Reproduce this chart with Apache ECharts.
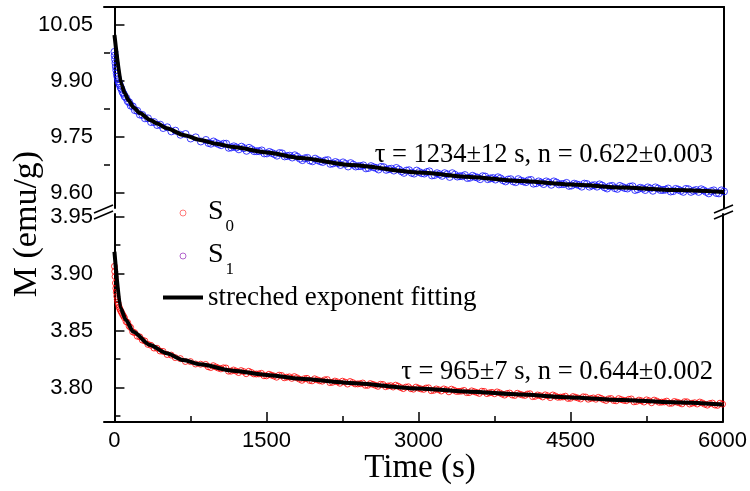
<!DOCTYPE html>
<html>
<head>
<meta charset="utf-8">
<script src="https://cdn.jsdelivr.net/npm/echarts@6/dist/echarts.min.js"></script>
<style>html,body{margin:0;padding:0;background:#fff;}#chart{width:750px;height:491px;}</style>
</head>
<body>
<div id="chart"></div>
<script>
// ---- data ----
const dataTime = [0,3,6,10,14,18,23,28,34,40,47,54,62,70,80,90,100,115,130,145,160,180,200,225,250,275,300,330,360,390,420,450,480,520,560,600,650,700,750,800,850,
900,950,1000,1050,1100,1150,1200,1250,1300,1350,1400,1450,1500,1550,1600,1650,1700,1750,1800,1850,1900,1950,2000,2050,2100,2150,2200,2250,2300,2350,2400,2450,2500,2550,2600,2650,2700,2750,2800,2850,2900,2950,3000,3050,3100,3150,3200,3250,3300,3350,3400,3450,3500,3550,3600,3650,3700,3750,3800,3850,3900,3950,4000,4050,4100,4150,4200,4250,4300,4350,4400,4450,4500,4550,4600,4650,4700,4750,4800,4850,4900,4950,5000,5050,5100,5150,5200,5250,5300,5350,5400,5450,5500,5550,5600,5650,5700,5750,5800,5850,5900,5950,6000];

const s1Values = [9.978,9.968,9.958,9.948,9.938,9.929,9.920,9.912,9.905,9.899,9.893,9.889,9.882,9.878,9.870,9.866,9.859,9.855,9.846,9.843,9.834,9.832,9.822,9.820,9.810,9.809,9.800,9.800,9.790,9.790,9.782,9.783,9.774,9.776,9.765,9.767,9.756,9.758,9.746,9.749,9.738,
9.742,9.732,9.734,9.728,9.732,9.722,9.722,9.724,9.713,9.717,
9.712,9.714,9.706,9.707,9.700,9.706,9.699,9.695,9.697,9.688,
9.694,9.685,9.688,9.683,9.688,9.679,9.680,9.682,9.671,9.676,
9.672,9.674,9.667,9.669,9.663,9.669,9.664,9.660,9.663,9.654,
9.661,9.652,9.656,9.652,9.658,9.648,9.650,9.653,9.643,9.649,
9.645,9.648,9.641,9.643,9.637,9.644,9.639,9.636,9.639,9.631,
9.637,9.629,9.633,9.629,9.635,9.626,9.628,9.631,9.622,9.628,
9.624,9.627,9.620,9.623,9.617,9.624,9.620,9.617,9.620,9.612,
9.619,9.611,9.616,9.612,9.618,9.610,9.612,9.615,9.606,9.612,
9.608,9.612,9.605,9.609,9.603,9.610,9.606,9.603,9.607,9.599,
9.607,9.599,9.604];

const s0Values = [3.9065,3.9020,3.8975,3.8918,3.8872,3.8838,3.8802,3.8772,3.8748,3.8728,3.8707,3.8690,3.8674,3.8660,3.8643,3.8628,3.8612,3.8580,3.8572,3.8540,3.8528,3.8490,3.8482,3.8452,3.8446,3.8418,3.8410,3.8380,3.8372,3.8348,3.8346,3.8322,3.8318,3.8291,3.8286,3.8264,3.8255,3.8230,3.8229,3.8208,3.8206,
3.8204,3.8177,3.8182,3.8165,3.8173,3.8145,3.8146,3.8150,3.8123,3.8134,
3.8120,3.8126,3.8104,3.8110,3.8092,3.8107,3.8092,3.8082,3.8087,3.8065,
3.8082,3.8060,3.8069,3.8057,3.8071,3.8047,3.8051,3.8057,3.8032,3.8045,
3.8033,3.8041,3.8021,3.8029,3.8012,3.8028,3.8015,3.8006,3.8013,3.7992,
3.8008,3.7987,3.7996,3.7985,3.7999,3.7977,3.7982,3.7989,3.7964,3.7978,
3.7968,3.7976,3.7957,3.7965,3.7950,3.7967,3.7955,3.7947,3.7955,3.7935,
3.7953,3.7932,3.7943,3.7932,3.7947,3.7924,3.7930,3.7937,3.7913,3.7927,
3.7917,3.7925,3.7907,3.7916,3.7901,3.7918,3.7906,3.7899,3.7907,3.7888,
3.7905,3.7885,3.7896,3.7886,3.7901,3.7879,3.7885,3.7893,3.7868,3.7883,
3.7873,3.7882,3.7864,3.7873,3.7858,3.7876,3.7864,3.7857,3.7866,3.7847,
3.7865,3.7845,3.7856];

// second, interleaved set of readings (the scatter band is dense)
const dataTime2 = [925,975,1025,1075,1125,1175,1225,1275,1325,1375,1425,1475,1525,1575,1625,1675,1725,1775,1825,1875,1925,1975,2025,2075,2125,2175,2225,2275,2325,2375,2425,2475,2525,2575,2625,2675,2725,2775,2825,2875,2925,2975,3025,3075,3125,3175,3225,3275,3325,3375,3425,3475,3525,3575,3625,3675,3725,3775,3825,3875,3925,3975,4025,4075,4125,4175,4225,4275,4325,4375,4425,4475,4525,4575,4625,4675,4725,4775,4825,4875,4925,4975,5025,5075,5125,5175,5225,5275,5325,5375,5425,5475,5525,5575,5625,5675,5725,5775,5825,5875,5925,5975];

const s1Values2 = [9.734,9.738,9.731,9.732,9.721,9.725,9.717,9.720,9.721,9.712,
9.712,9.706,9.710,9.704,9.707,9.698,9.700,9.701,9.692,9.693,
9.687,9.692,9.685,9.687,9.678,9.683,9.675,9.678,9.680,9.671,
9.672,9.666,9.672,9.667,9.670,9.662,9.665,9.667,9.658,9.660,
9.654,9.660,9.653,9.656,9.647,9.653,9.646,9.650,9.653,9.644,
9.645,9.640,9.646,9.641,9.645,9.637,9.640,9.642,9.634,9.636,
9.631,9.637,9.631,9.634,9.625,9.631,9.624,9.628,9.631,9.623,
9.624,9.619,9.625,9.621,9.625,9.617,9.621,9.623,9.615,9.618,
9.613,9.619,9.613,9.617,9.608,9.614,9.608,9.612,9.615,9.608,
9.609,9.604,9.611,9.606,9.611,9.603,9.608,9.610,9.603,9.605,
9.600,9.607];

const s0Values2 = [3.8184,3.8193,3.8172,3.8174,3.8145,3.8155,3.8133,3.8141,3.8144,3.8121,
3.8121,3.8105,3.8118,3.8102,3.8110,3.8087,3.8095,3.8097,3.8075,3.8079,
3.8064,3.8078,3.8061,3.8069,3.8045,3.8058,3.8039,3.8049,3.8054,3.8033,
3.8035,3.8021,3.8036,3.8021,3.8030,3.8009,3.8018,3.8022,3.8001,3.8005,
3.7991,3.8005,3.7989,3.7997,3.7974,3.7989,3.7971,3.7981,3.7987,3.7967,
3.7970,3.7957,3.7972,3.7958,3.7969,3.7948,3.7959,3.7963,3.7944,3.7949,
3.7936,3.7951,3.7936,3.7944,3.7922,3.7936,3.7919,3.7929,3.7936,3.7916,
3.7919,3.7906,3.7922,3.7909,3.7920,3.7899,3.7910,3.7915,3.7896,3.7902,
3.7888,3.7904,3.7889,3.7898,3.7876,3.7891,3.7874,3.7885,3.7891,3.7872,
3.7875,3.7863,3.7879,3.7866,3.7877,3.7857,3.7868,3.7874,3.7855,3.7861,
3.7848,3.7864];

const fitTopTime  = [0, 71, 100, 140, 185, 250, 350, 420, 515, 679, 843, 1000, 1172, 1501, 1829, 2323, 3000, 3500, 4000, 4500, 5000, 5500, 6000];
const fitTopValue = [10.023, 9.889, 9.868, 9.848, 9.830, 9.814, 9.7955, 9.786, 9.7733, 9.7554, 9.742, 9.732, 9.7232, 9.7085, 9.6937, 9.675, 9.6549, 9.643, 9.6322, 9.6228, 9.6147, 9.608, 9.6027];

const fitBotTime  = [0, 61, 113, 185, 350, 515, 679, 843, 1172, 1501, 1829, 2323, 3000, 3500, 4000, 4500, 5000, 5500, 6000];
const fitBotValue = [3.9193, 3.8697, 3.8594, 3.8491, 3.8375, 3.8302, 3.8243, 3.8206, 3.8149, 3.8112, 3.8079, 3.8042, 3.7993, 3.7965, 3.7940, 3.7915, 3.7893, 3.7872, 3.7853];

const xMajorTicks = [0, 1500, 3000, 4500, 6000];
const xMinorTicks = [750, 2250, 3750, 5250];
const yTopMajor = [9.60, 9.75, 9.90, 10.05];
const yTopMinor = [9.675, 9.825, 9.975];
const yBotMajor = [3.80, 3.85, 3.90, 3.95];
const yBotMinor = [3.775, 3.825, 3.875, 3.925];

const seriesNames = ['S0', 'S1', 'streched exponent fitting'];
const annotTop = 'τ = 1234±12 s, n = 0.622±0.003';
const annotBot = 'τ = 965±7 s, n = 0.644±0.002';
const xTitle = 'Time (s)';
const yTitle = 'M (emu/g)';

// ---- build ----
const zip = (a, b) => a.map((v, i) => [v, b[i]]);
const SERIF = '"Liberation Serif","Times New Roman",serif';
const SANS = '"Liberation Sans",Arial,sans-serif';

const X_MIN = -103, X_MAX = 6000;
const TOP_MIN = 9.5598, TOP_MAX = 10.0982;
const BOT_MIN = 3.7699, BOT_MAX = 3.9524;

const lineBlack = { color: '#000', width: 2 };
const labelStyle = { fontFamily: SANS, fontSize: 22, color: '#000' };

function majorY(grid, min, max, ticks) {
  return { type: 'value', gridIndex: grid, position: 'left', min, max, splitLine: { show: false },
    axisLine: { show: true, lineStyle: lineBlack },
    axisTick: { show: true, inside: true, length: 10, customValues: ticks, lineStyle: { color: '#000', width: 1.5 } },
    axisLabel: Object.assign({ show: true, margin: 11, customValues: ticks, formatter: v => v.toFixed(2) }, labelStyle) };
}
function minorY(grid, min, max, ticks) {
  return { type: 'value', gridIndex: grid, position: 'left', min, max, splitLine: { show: false },
    axisLine: { show: false },
    axisTick: { show: true, inside: true, length: 6, customValues: ticks, lineStyle: { color: '#000', width: 1.5 } },
    axisLabel: { show: false } };
}
function rightY(grid, min, max) {
  return { type: 'value', gridIndex: grid, position: 'right', min, max, splitLine: { show: false },
    axisLine: { show: true, lineStyle: lineBlack }, axisTick: { show: false }, axisLabel: { show: false } };
}

const chart = echarts.init(document.getElementById('chart'), null, { renderer: 'canvas' });
chart.setOption({
  animation: false,
  backgroundColor: '#fff',
  grid: [
    { left: 104, right: 26, top: 7, height: 201 },
    { left: 104, right: 26, top: 214, bottom: 69 }
  ],
  xAxis: [
    { type: 'value', gridIndex: 0, position: 'top', min: X_MIN, max: X_MAX, splitLine: { show: false },
      axisLine: { show: true, lineStyle: lineBlack }, axisTick: { show: false }, axisLabel: { show: false } },
    { type: 'value', gridIndex: 1, position: 'bottom', min: X_MIN, max: X_MAX, splitLine: { show: false },
      axisLine: { show: true, lineStyle: lineBlack },
      axisTick: { show: true, inside: true, length: 10, customValues: xMajorTicks, lineStyle: { color: '#000', width: 1.5 } },
      axisLabel: Object.assign({ show: true, margin: 8, customValues: xMajorTicks, formatter: v => String(v) }, labelStyle) },
    { type: 'value', gridIndex: 1, position: 'bottom', min: X_MIN, max: X_MAX, splitLine: { show: false },
      axisLine: { show: false },
      axisTick: { show: true, inside: true, length: 6, customValues: xMinorTicks, lineStyle: { color: '#000', width: 1.5 } },
      axisLabel: { show: false } }
  ],
  yAxis: [
    majorY(0, TOP_MIN, TOP_MAX, yTopMajor),
    minorY(0, TOP_MIN, TOP_MAX, yTopMinor),
    rightY(0, TOP_MIN, TOP_MAX),
    majorY(1, BOT_MIN, BOT_MAX, yBotMajor),
    minorY(1, BOT_MIN, BOT_MAX, yBotMinor),
    rightY(1, BOT_MIN, BOT_MAX)
  ],
  legend: {
    orient: 'vertical', left: 163, top: 198, padding: 0, itemGap: 6,
    itemWidth: 40, itemHeight: 6, symbolKeepAspect: true,
    data: [
      { name: seriesNames[0], icon: 'circle', itemStyle: { color: 'rgba(0,0,0,0)', borderColor: '#ff5a5a', borderWidth: 1 } },
      { name: seriesNames[1], icon: 'circle', itemStyle: { color: 'rgba(0,0,0,0)', borderColor: '#a040c0', borderWidth: 1 } },
      { name: seriesNames[2], icon: 'path://M0,0L40,0L40,4L0,4Z', itemStyle: { color: '#000', borderWidth: 0 } }
    ],
    formatter: function (name) {
      if (name === seriesNames[0]) return '{s|S}{sub|0}';
      if (name === seriesNames[1]) return '{s|S}{sub|1}';
      return '{t|' + name + '}';
    },
    textStyle: {
      fontFamily: SERIF, fontSize: 27, color: '#000',
      rich: {
        s: { fontFamily: SERIF, fontSize: 28, lineHeight: 30, verticalAlign: 'top', color: '#000' },
        sub: { fontFamily: SERIF, fontSize: 17, lineHeight: 17, padding: [20, 0, 0, 2], verticalAlign: 'top', color: '#000' },
        t: { fontFamily: SERIF, fontSize: 27, lineHeight: 37, color: '#000' }
      }
    }
  },
  series: [
    { name: seriesNames[0], type: 'scatter', xAxisIndex: 1, yAxisIndex: 3,
      data: zip(dataTime, s0Values).concat(zip(dataTime2, s0Values2)),
      symbol: 'circle', symbolSize: 6, z: 2,
      itemStyle: { color: 'rgba(0,0,0,0)', borderColor: '#ff0000', borderWidth: 1 } },
    { name: seriesNames[1], type: 'scatter', xAxisIndex: 0, yAxisIndex: 0,
      data: zip(dataTime, s1Values).concat(zip(dataTime2, s1Values2)),
      symbol: 'circle', symbolSize: 7, z: 2,
      itemStyle: { color: 'rgba(0,0,0,0)', borderColor: '#1010ff', borderWidth: 1 } },
    { name: seriesNames[2], type: 'line', xAxisIndex: 0, yAxisIndex: 0, data: zip(fitTopTime, fitTopValue),
      symbol: 'none', smooth: 0.25, smoothMonotone: 'x', z: 5, lineStyle: { color: '#000', width: 4 }, itemStyle: { color: '#000' } },
    { name: seriesNames[2], type: 'line', xAxisIndex: 1, yAxisIndex: 3, data: zip(fitBotTime, fitBotValue),
      symbol: 'none', smooth: 0.25, smoothMonotone: 'x', z: 5, lineStyle: { color: '#000', width: 4 }, itemStyle: { color: '#000' } }
  ],
  graphic: [
    { type: 'text', x: 713, y: 155, z: 10,
      style: { text: annotTop, fontFamily: SERIF, fontSize: 26.5, fill: '#000', align: 'right', verticalAlign: 'middle' } },
    { type: 'text', x: 713, y: 372, z: 10,
      style: { text: annotBot, fontFamily: SERIF, fontSize: 26.5, fill: '#000', align: 'right', verticalAlign: 'middle' } },
    { type: 'text', x: 420, y: 468, z: 10,
      style: { text: xTitle, fontFamily: SERIF, fontSize: 33, fill: '#000', align: 'center', verticalAlign: 'middle' } },
    { type: 'text', x: 27, y: 224, rotation: Math.PI / 2, z: 10,
      style: { text: yTitle, fontFamily: SERIF, fontSize: 34, fill: '#000', align: 'center', verticalAlign: 'middle' } },
    { type: 'line', z: 10, shape: { x1: 94, y1: 213, x2: 113, y2: 205 }, style: { stroke: '#000', lineWidth: 1.5 } },
    { type: 'line', z: 10, shape: { x1: 94, y1: 219, x2: 113, y2: 211 }, style: { stroke: '#000', lineWidth: 1.5 } },
    { type: 'line', z: 10, shape: { x1: 714, y1: 213, x2: 733, y2: 205 }, style: { stroke: '#000', lineWidth: 1.5 } },
    { type: 'line', z: 10, shape: { x1: 714, y1: 219, x2: 733, y2: 211 }, style: { stroke: '#000', lineWidth: 1.5 } }
  ]
});
</script>
</body>
</html>
